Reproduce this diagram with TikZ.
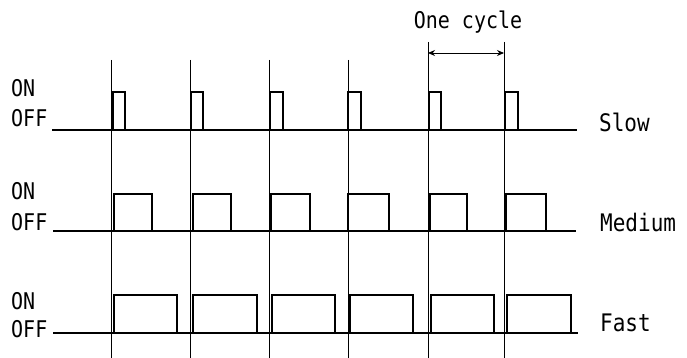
\documentclass[tikz,border=0pt]{standalone}
\usepackage{fontspec}
\setmainfont{DejaVu Sans Mono}
\usetikzlibrary{arrows.meta}
\begin{document}
\begin{tikzpicture}[x=1pt,y=-1pt,
  sig/.style={line width=2.4pt,line join=miter},
  grid/.style={line width=0.8pt},
  txt/.style={inner sep=0pt,yscale=1.15,transform shape},
  lab/.style={txt,font=\fontsize{20}{20}\selectfont,anchor=west},
  rlab/.style={txt,font=\fontsize{21}{21}\selectfont,anchor=west}]
\useasboundingbox (0,0) rectangle (687,358);
% vertical cycle lines
\foreach \x/\t in {111/60,190/60,269/60,348/60,428/42,504/42}
  \draw[grid] (\x,\t) -- (\x,358);
% Slow
\draw[sig] (52,130) -- (577,130);
\foreach \a/\b in {113/125,191/203,270/283,348/361,429/441,505/518}
  \draw[sig] (\a,130) -- (\a,92) -- (\b,92) -- (\b,130);
% Medium
\draw[sig] (53,231) -- (576,231);
\foreach \a/\b in {114/152,193/231,271/310,348/389,430/467,506/546}
  \draw[sig] (\a,231) -- (\a,194) -- (\b,194) -- (\b,231);
% Fast
\draw[sig] (53,333) -- (578,333);
\foreach \a/\b in {114/177,193/257,272/335,350/413,431/494,507/571}
  \draw[sig] (\a,333) -- (\a,295) -- (\b,295) -- (\b,333);
% left labels
\node[lab] (on1) at (11,88) {ON};
\node[lab] (off1) at (11,118) {OFF};
\node[lab] (on2) at (11,191) {ON};
\node[lab] (off2) at (11,222) {OFF};
\node[lab] (on3) at (11,301) {ON};
\node[lab] (off3) at (11,329) {OFF};
% right labels
\node[rlab] (slow) at (599,122) {Slow};
\node[rlab] (medium) at (600,222) {Medium};
\node[rlab] (fast) at (600,323) {Fast};
% one cycle
\coordinate (c1) at (428,53);
\coordinate (c2) at (504,53);
\draw[line width=0.9pt,{Stealth[length=7pt,width=6pt]}-{Stealth[length=7pt,width=6pt]}] (c1) -- (c2);
\node[txt,font=\fontsize{20}{20}\selectfont] (cyc) at (468,22) {One cycle};
\end{tikzpicture}
\end{document}
